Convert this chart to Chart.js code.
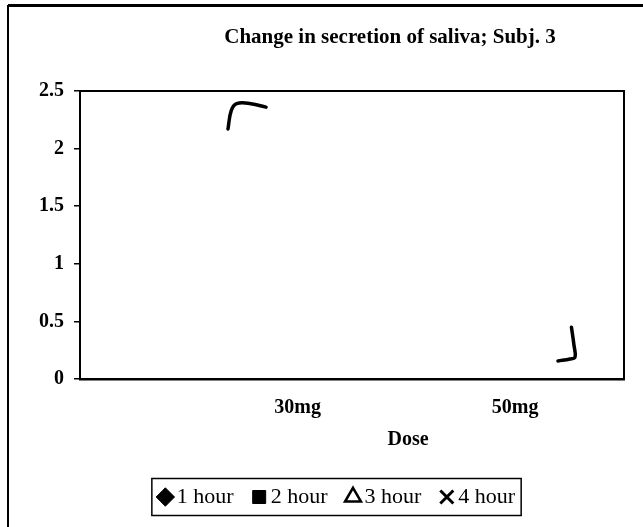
<!DOCTYPE html>
<html>
<head>
<meta charset="utf-8">
<title>Change in secretion of saliva; Subj. 3</title>
<script src="https://cdn.jsdelivr.net/npm/chart.js@4/dist/chart.umd.min.js"></script>
<style>
  html, body { margin: 0; padding: 0; background: #ffffff; }
  #wrap { position: relative; width: 643px; height: 527px; }
</style>
</head>
<body>
<div id="wrap"><canvas id="chart"></canvas></div>
<script>
// Chart text
const chartTitle = 'Change in secretion of saliva; Subj. 3';
const xAxisTitle = 'Dose';

// Dose axis (mg) and its labelled ticks
const doseRange = [10, 60];
const doseTicks = [30, 50];
const doseTickLabels = ['30mg', '50mg'];

// Value axis
const yRange = [0, 2.5];
const yStep = 0.5;

// Series: one per time after dosing; no values are legible at either dose
const seriesNames = ['1 hour', '2 hour', '3 hour', '4 hour'];
const hour1 = [null, null];
const hour2 = [null, null];
const hour3 = [null, null];
const hour4 = [null, null];

// Pen strokes drawn over the plot, in axis units (dose, value)
const strokeA = [[23.6, 2.17], [23.9, 2.33], [24.4, 2.39], [25.7, 2.39], [27.1, 2.36]];
const strokeB = [[55.17, 0.45], [55.4, 0.295], [55.5, 0.19], [55.04, 0.174], [53.93, 0.156]];

const SERIF = "'Liberation Serif', 'Times New Roman', 'DejaVu Serif', serif";
const LEGEND_SHIFT = 28;

function toPoints(values) {
  return doseTicks.map((d, i) => ({ x: d, y: values[i] }));
}
function strokePoints(list) {
  return list.map(p => ({ x: p[0], y: p[1] }));
}

const seriesStyles = [
  { pointStyle: 'rectRot', backgroundColor: '#000', borderColor: '#000', borderWidth: 1 },
  { pointStyle: 'rect', backgroundColor: '#000', borderColor: '#000', borderWidth: 1 },
  { pointStyle: 'triangle', backgroundColor: '#fff', borderColor: '#000', borderWidth: 2.5 },
  { pointStyle: 'crossRot', backgroundColor: '#000', borderColor: '#000', borderWidth: 3 }
];
const seriesValues = [hour1, hour2, hour3, hour4];

const datasets = seriesNames.map((name, i) => Object.assign({
  label: name,
  data: toPoints(seriesValues[i]),
  pointRadius: 5,
  showLine: true
}, seriesStyles[i]));

[strokeA, strokeB].forEach((s, i) => {
  datasets.push({
    label: 'stroke' + i,
    data: strokePoints(s),
    borderColor: '#000',
    backgroundColor: '#000',
    borderWidth: 3.5,
    borderCapStyle: 'round',
    borderJoinStyle: 'round',
    pointRadius: 0,
    tension: 0.4,
    isStroke: true
  });
});

// Page frame, plot border, legend frame and captions
const decorations = {
  id: 'decorations',
  afterLayout(chart) {
    // legend sits right of the page centre
    chart.legend.left += LEGEND_SHIFT;
    chart.legend.right += LEGEND_SHIFT;
  },
  beforeDraw(chart) {
    const ctx = chart.ctx;
    ctx.save();
    ctx.fillStyle = '#fff';
    ctx.fillRect(0, 0, chart.width, chart.height);
    ctx.strokeStyle = '#000';
    ctx.lineWidth = 3;
    ctx.beginPath();
    ctx.moveTo(8, 5.5);
    ctx.lineTo(chart.width, 5.5);
    ctx.stroke();
    ctx.lineWidth = 2;
    ctx.beginPath();
    ctx.moveTo(8, 5);
    ctx.lineTo(8, chart.height);
    ctx.stroke();
    ctx.restore();
  },
  afterDraw(chart) {
    const ctx = chart.ctx;
    const a = chart.chartArea;
    ctx.save();
    ctx.strokeStyle = '#000';
    ctx.lineWidth = 2;
    ctx.beginPath();
    ctx.moveTo(a.left, a.top);
    ctx.lineTo(a.right, a.top);
    ctx.lineTo(a.right, a.bottom);
    ctx.stroke();

    // legend frame
    const hb = chart.legend.legendHitBoxes;
    if (hb && hb.length) {
      const first = hb[0], last = hb[hb.length - 1];
      const cy = first.top + first.height / 2;
      const x0 = first.left - 13;
      const x1 = last.left + last.width + 6;
      ctx.lineWidth = 1.5;
      ctx.strokeRect(x0, cy - 18.5, x1 - x0, 37);
    }

    ctx.fillStyle = '#000';
    ctx.textAlign = 'center';
    ctx.textBaseline = 'middle';
    ctx.font = 'bold 21px ' + SERIF;
    ctx.fillText(chartTitle, 390, 38);
    ctx.font = 'bold 20px ' + SERIF;
    ctx.fillText(xAxisTitle, 408, 440);
    ctx.restore();
  }
};

new Chart(document.getElementById('chart'), {
  type: 'line',
  data: { datasets },
  plugins: [decorations],
  options: {
    responsive: true,
    maintainAspectRatio: false,
    animation: false,
    devicePixelRatio: 1,
    layout: { padding: { top: 91, left: 0, right: 19, bottom: 9 } },
    plugins: {
      title: { display: false },
      tooltip: { enabled: false },
      legend: {
        display: true,
        position: 'bottom',
        labels: {
          usePointStyle: true,
          boxWidth: 1,
          boxHeight: 13,
          padding: 25,
          color: '#000',
          font: { family: SERIF, size: 22 },
          filter: (item, data) => !data.datasets[item.datasetIndex].isStroke
        }
      }
    },
    scales: {
      x: {
        type: 'linear',
        min: doseRange[0],
        max: doseRange[1],
        afterBuildTicks: scale => { scale.ticks = doseTicks.map(v => ({ value: v })); },
        afterFit: scale => { scale.height = 82; },
        grid: { display: false, drawTicks: false },
        border: { display: true, color: '#000', width: 2.5 },
        ticks: {
          padding: 17,
          color: '#000',
          font: { family: SERIF, size: 20, weight: 'bold' },
          callback: v => doseTickLabels[doseTicks.indexOf(v)] || ''
        }
      },
      y: {
        min: yRange[0],
        max: yRange[1],
        afterFit: scale => { scale.width = 80; },
        grid: { display: true, drawOnChartArea: false, tickLength: 6, color: '#000', lineWidth: 1.5 },
        border: { display: true, color: '#000', width: 2 },
        ticks: {
          stepSize: yStep,
          padding: 10,
          color: '#000',
          font: { family: SERIF, size: 20, weight: 'bold' },
          callback: v => String(v)
        }
      }
    }
  }
});
</script>
</body>
</html>
